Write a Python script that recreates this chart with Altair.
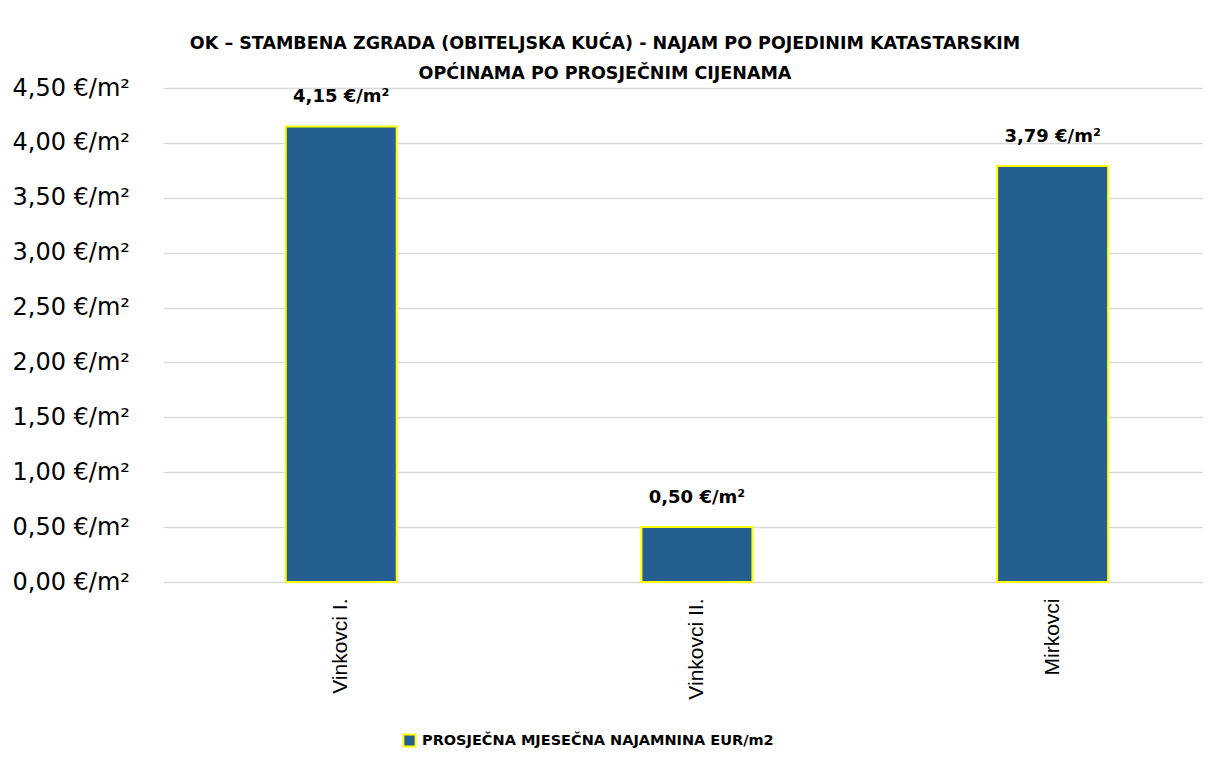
import altair as alt
import pandas as pd

categories = ["Vinkovci I.", "Vinkovci II.", "Mirkovci"]
values = [4.15, 0.50, 3.79]
labels = ["4,15 €/m²", "0,50 €/m²", "3,79 €/m²"]
series = "PROSJEČNA MJESEČNA NAJAMNINA EUR/m2"
tick_values = [0, 0.5, 1, 1.5, 2, 2.5, 3, 3.5, 4, 4.5]

df = pd.DataFrame({"cat": categories, "val": values, "lab": labels, "series": [series] * 3})

BLUE = "#255E91"
YELLOW = "#FFFF00"
FONT = "DejaVu Sans"

label_expr = "replace(format(datum.value, '.2f'), '.', ',') + ' €/m²'"

x = alt.X("cat:N", sort=categories, title=None,
          scale=alt.Scale(paddingInner=0.688, paddingOuter=0.306, align=0.564),
          axis=alt.Axis(labelAngle=-90, labelAlign="right", labelBaseline="middle",
                        labelFont="Liberation Sans", labelFontSize=21, labelColor="#000000",
                        labelPadding=16, ticks=False, domain=False, grid=False))
y = alt.Y("val:Q", title=None,
          scale=alt.Scale(domain=[0, 4.5], nice=False),
          axis=alt.Axis(values=tick_values, labelExpr=label_expr, labelFont=FONT,
                        labelFontSize=24, labelColor="#000000", labelAlign="left",
                        labelPadding=151, ticks=False, domain=False,
                        gridColor="#D9D9D9", gridWidth=1.6))

bars = alt.Chart(df).mark_bar(stroke=YELLOW, strokeWidth=2).encode(
    x=x, y=y,
    color=alt.Color("series:N", title=None,
                    scale=alt.Scale(domain=[series], range=[BLUE]),
                    legend=alt.Legend(orient="none", legendX=239, legendY=645,
                                      symbolType="square", symbolSize=150,
                                      symbolStrokeColor=YELLOW, symbolStrokeWidth=2,
                                      symbolOpacity=1, labelFont=FONT, labelFontSize=14.5,
                                      labelFontWeight="bold", labelColor="#000000",
                                      labelLimit=0, padding=0, labelOffset=5)),
)

text = alt.Chart(df).mark_text(font=FONT, fontSize=18, fontWeight="bold", color="#000000",
                               baseline="alphabetic", dy=-24).encode(
    x=alt.X("cat:N", sort=categories),
    y=alt.Y("val:Q"),
    text="lab:N",
)

chart = (bars + text).properties(
    width=1040, height=494,
    title=alt.TitleParams(
        ["OK – STAMBENA ZGRADA (OBITELJSKA KUĆA) - NAJAM PO POJEDINIM KATASTARSKIM",
         "OPĆINAMA PO PROSJEČNIM CIJENAMA"],
        font=FONT, fontSize=17.5, fontWeight="bold", color="#000000",
        anchor="middle", dx=-78, lineHeight=30, offset=-6),
    autosize=alt.AutoSizeParams(type="none"),
    padding={"left": 155, "top": 80, "right": 0, "bottom": 170},
    background="#FFFFFF",
).configure_view(stroke=None)

chart.save("out.html", embed_options={"renderer": "svg", "actions": False})
